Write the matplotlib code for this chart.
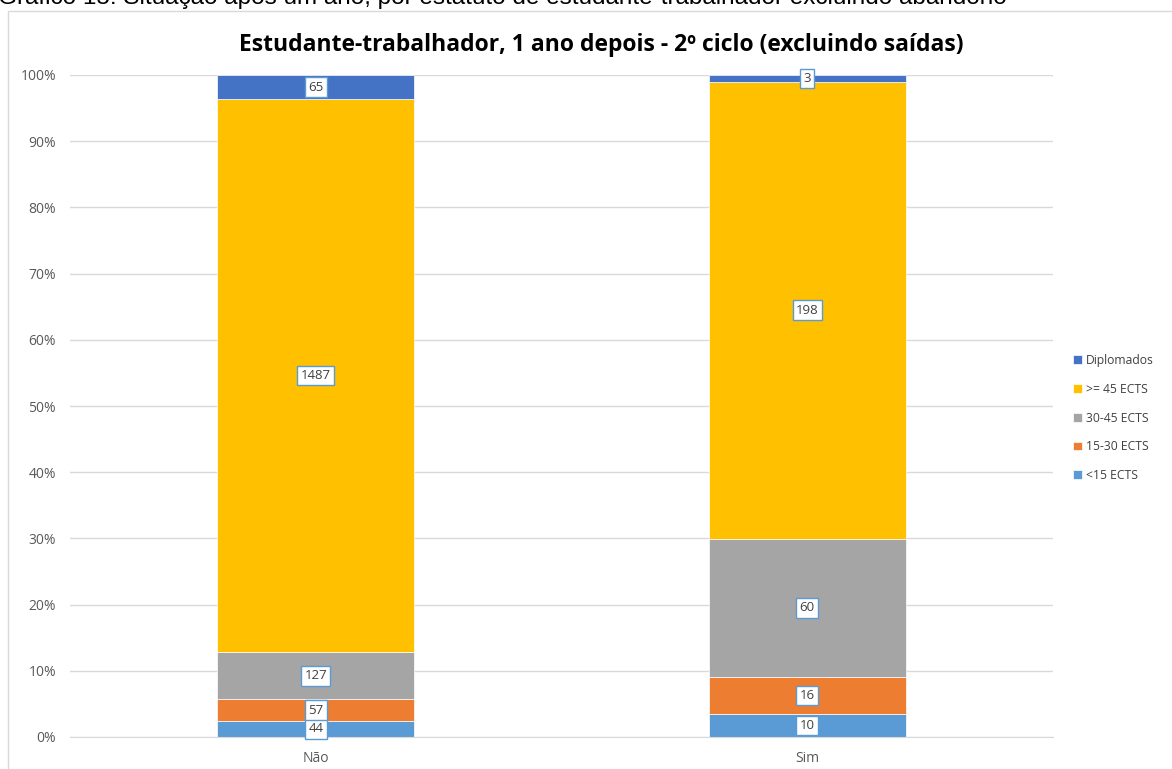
import matplotlib.pyplot as plt
import numpy as np
from matplotlib.patches import Rectangle
from matplotlib.ticker import PercentFormatter

categories = ['Não', 'Sim']
series_names = ['<15 ECTS', '15-30 ECTS', '30-45 ECTS', '>= 45 ECTS', 'Diplomados']
series_values = {
    '<15 ECTS': [44, 10],
    '15-30 ECTS': [57, 16],
    '30-45 ECTS': [127, 60],
    '>= 45 ECTS': [1487, 198],
    'Diplomados': [65, 3],
}
colors = {
    '<15 ECTS': '#5B9BD5',
    '15-30 ECTS': '#ED7D31',
    '30-45 ECTS': '#A5A5A5',
    '>= 45 ECTS': '#FFC000',
    'Diplomados': '#4472C4',
}

plt.rcParams['font.family'] = ['Open Sans', 'DejaVu Sans']

fig = plt.figure(figsize=(11.72, 7.69), dpi=100)
ax = fig.add_axes([70 / 1172, 1 - 737 / 769, 983 / 1172, 662 / 769])

# frame round the chart area
fig.patches.append(Rectangle((8 / 1172, -0.1), 1.2, 1 - 11 / 769 + 0.1, transform=fig.transFigure,
                             fill=False, edgecolor='#D9D9D9', lw=1))

x = np.arange(len(categories))
totals = np.sum([series_values[s] for s in series_names], axis=0)
bottom = np.zeros(len(categories))
for name in series_names:
    vals = np.array(series_values[name], dtype=float)
    share = vals / totals * 100
    ax.bar(x, share, width=0.4, bottom=bottom, color=colors[name], label=name,
           edgecolor='white', linewidth=0.5, zorder=2)
    for xi, b, s, v in zip(x, bottom, share, vals):
        ax.text(xi, b + s / 2, f'{int(v)}', ha='center', va='center', fontsize=9.5, color='#404040',
                zorder=4,
                bbox=dict(boxstyle='square,pad=0.25', facecolor='white', edgecolor='#5B9BD5', lw=1))
    bottom += share

ax.set_xlim(-0.5, 1.5)
ax.set_ylim(0, 100)
ax.set_yticks(np.arange(0, 101, 10))
ax.yaxis.set_major_formatter(PercentFormatter(decimals=0))
ax.set_xticks(x)
ax.set_xticklabels(categories)
ax.tick_params(length=0, labelsize=10, colors='#595959', pad=10)
ax.grid(axis='y', color='#D9D9D9', lw=1, zorder=0)
for side in ['top', 'right', 'left']:
    ax.spines[side].set_visible(False)
ax.spines['bottom'].set_color('#D9D9D9')

handles, labels = ax.get_legend_handles_labels()
fig.legend(handles[::-1], labels[::-1], loc='center left', bbox_to_anchor=(1062 / 1172, 1 - 418 / 769),
           frameon=False, fontsize=8.7, handlelength=0.75, handleheight=0.75, handletextpad=0.3,
           labelspacing=1.3, labelcolor='#404040')

fig.text(601 / 1172, 1 - 45 / 769, 'Estudante-trabalhador, 1 ano depois - 2º ciclo (excluindo saídas)',
         ha='center', va='center', fontsize=16.5, fontweight='bold', color='black')
fig.text(-2 / 1172, 1 - 4 / 769,
         'Gráfico 15: Situação após um ano, por estatuto de estudante-trabalhador excluindo abandono',
         ha='left', va='baseline', fontsize=17.5, family='Liberation Sans', color='black')

fig.savefig('out.png', dpi=100)
